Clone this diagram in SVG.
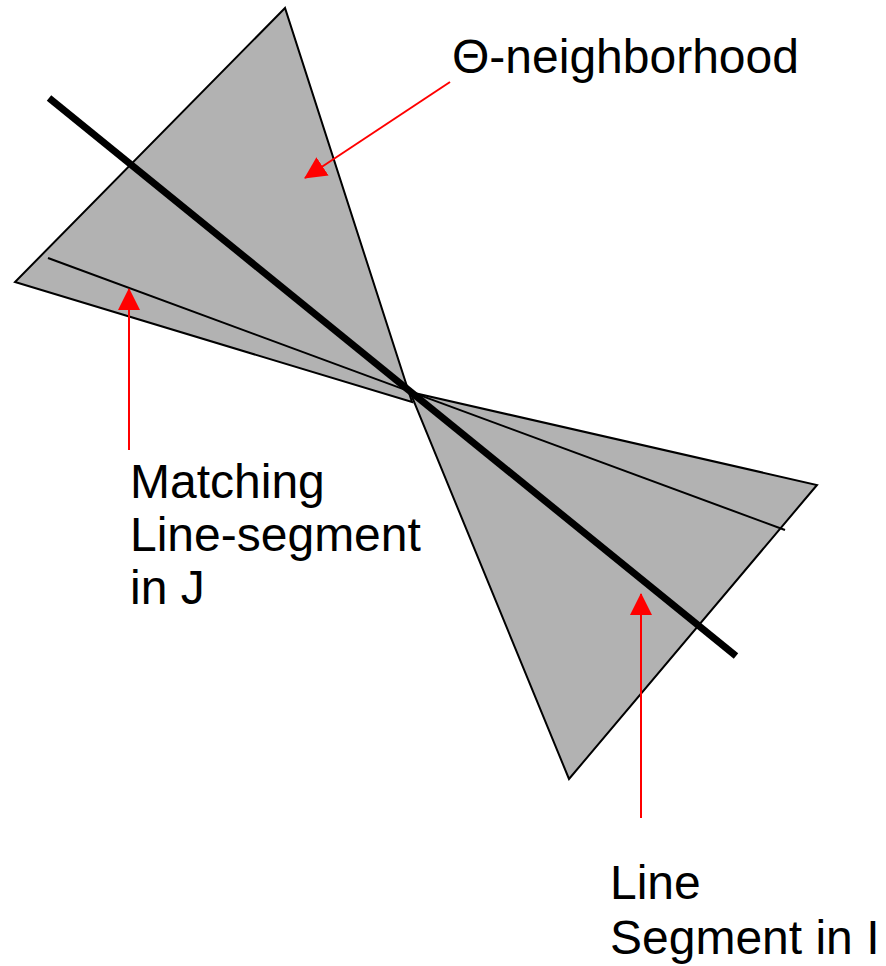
<svg xmlns="http://www.w3.org/2000/svg" width="886" height="966" viewBox="0 0 886 966">
<style>
.cone{fill:#b2b2b2;stroke:#000;stroke-width:2;stroke-linejoin:miter}
.thick{stroke:#000;stroke-width:7;fill:none}
.thin{stroke:#000;stroke-width:2;fill:none}
.red{stroke:#ff0000;stroke-width:2;fill:none}
.lbl{font-family:"Liberation Sans",Arial,sans-serif;font-size:48px;fill:#000}
</style>
<defs>
<marker id="ah" markerUnits="userSpaceOnUse" markerWidth="22" markerHeight="22" viewBox="0 0 22 22" refX="21" refY="11" orient="auto">
<path d="M0,0 L22,11 L0,22 Z" fill="#ff0000"/>
</marker>
</defs>
<g id="neighborhood">
<polygon class="cone" points="285,8 15,282 412,402"/>
<polygon class="cone" points="410,392 817,485 569,779"/>
</g>
<g id="segment-J">
<line class="thin" x1="48" y1="258" x2="785" y2="530"/>
</g>
<g id="segment-I">
<line class="thick" x1="49" y1="98" x2="736" y2="656"/>
</g>
<g id="connectors">
<line class="red" x1="450" y1="82" x2="305" y2="178" marker-end="url(#ah)"/>
<line class="red" x1="129" y1="450" x2="129" y2="289" marker-end="url(#ah)"/>
<line class="red" x1="641" y1="818" x2="641" y2="594" marker-end="url(#ah)"/>
</g>
<g id="label-theta">
<text class="lbl" x="452" y="73">Θ-neighborhood</text>
</g>
<g id="label-J">
<text class="lbl" x="130" y="498">Matching</text>
<text class="lbl" x="130" y="551">Line-segment</text>
<text class="lbl" x="130" y="604">in J</text>
</g>
<g id="label-I">
<text class="lbl" x="610" y="899">Line</text>
<text class="lbl" x="610" y="954">Segment in I</text>
</g>
</svg>
